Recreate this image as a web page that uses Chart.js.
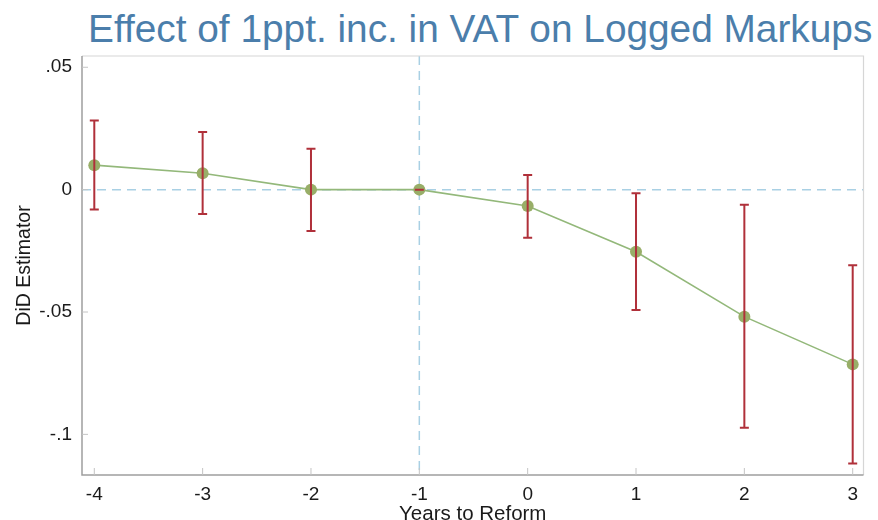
<!DOCTYPE html>
<html>
<head>
<meta charset="utf-8">
<script src="https://cdn.jsdelivr.net/npm/chart.js@4.4.0/dist/chart.umd.min.js"></script>
<style>
    body { margin: 0; background: #fff; }
    #wrap { position: relative; width: 878px; height: 520px; }
    #titulo {
        position: absolute; left: 88px; top: 10px;
        font-family: "Liberation Sans", Arial, sans-serif;
        font-size: 38.8px; line-height: 38.8px;
        color: #4b7eab; white-space: nowrap;
    }
    canvas { position: absolute; left: 0; top: 0; }
</style>
</head>
<body>
<div id="wrap">
    <div id="titulo">Effect of 1ppt. inc. in VAT on Logged Markups</div>
    <canvas id="grafico" width="878" height="520"></canvas>
</div>
<script>
// datos
let years = [-4, -3, -2, -1, 0, 1, 2, 3]
let estimador = [0.0100, 0.0067, 0.0000, 0.0000, -0.0067, -0.0254, -0.0519, -0.0714]
let ci_alto = [0.0282, 0.0235, 0.0167, 0.0000, 0.0060, -0.0015, -0.0062, -0.0309]
let ci_bajo = [-0.0081, -0.0100, -0.0169, 0.0000, -0.0197, -0.0492, -0.0973, -0.1119]
let y_ticks = [-0.1, -0.05, 0, 0.05]
let y_labels = ['-.1', '-.05', '0', '.05']

let color_linea = '#93b87a'
let color_punto = '#98ae68'
let color_error = '#b0303a'
let color_ref = '#a9d0e4'
let color_eje = '#9e9e9e'

let fuente = '"Liberation Sans", Arial, sans-serif'

// lineas de referencia (x = -1, y = 0)
const referencias = {
    id: 'referencias',
    beforeDatasetsDraw(chart) {
        const {ctx, chartArea, scales: {x, y}} = chart
        ctx.save()
        ctx.strokeStyle = color_ref
        ctx.lineWidth = 1.5
        ctx.setLineDash([9, 6])
        let y0 = y.getPixelForValue(0)
        ctx.beginPath()
        ctx.moveTo(chartArea.left, y0)
        ctx.lineTo(chartArea.right, y0)
        ctx.stroke()
        let x1 = x.getPixelForValue(-1)
        ctx.beginPath()
        ctx.moveTo(x1, chartArea.top)
        ctx.lineTo(x1, chartArea.bottom)
        ctx.stroke()
        ctx.restore()
    }
}

// barras de error
const barras_error = {
    id: 'barras_error',
    afterDatasetsDraw(chart) {
        const {ctx, scales: {x, y}} = chart
        ctx.save()
        ctx.strokeStyle = color_error
        ctx.lineWidth = 2
        years.forEach((anio, i) => {
            let px = x.getPixelForValue(anio)
            let top = y.getPixelForValue(ci_alto[i])
            let bot = y.getPixelForValue(ci_bajo[i])
            ctx.beginPath()
            ctx.moveTo(px, top)
            ctx.lineTo(px, bot)
            ctx.moveTo(px - 4.5, top)
            ctx.lineTo(px + 4.5, top)
            ctx.moveTo(px - 4.5, bot)
            ctx.lineTo(px + 4.5, bot)
            ctx.stroke()
        })
        ctx.restore()
    }
}

// marco y ticks hacia adentro
const marco = {
    id: 'marco',
    beforeDatasetsDraw(chart) {
        const {ctx, chartArea: a, scales: {x, y}} = chart
        ctx.save()
        ctx.strokeStyle = '#d6d6d6'
        ctx.lineWidth = 1.2
        ctx.beginPath()
        ctx.moveTo(a.left, a.top)
        ctx.lineTo(a.right, a.top)
        ctx.lineTo(a.right, a.bottom)
        ctx.stroke()
        ctx.strokeStyle = color_eje
        ctx.lineWidth = 1.5
        ctx.beginPath()
        ctx.moveTo(a.left, a.top)
        ctx.lineTo(a.left, a.bottom)
        ctx.lineTo(a.right, a.bottom)
        ctx.stroke()
        ctx.strokeStyle = '#c4c4c4'
        ctx.lineWidth = 1
        ctx.beginPath()
        y_ticks.forEach(v => {
            let py = y.getPixelForValue(v)
            ctx.moveTo(a.left, py)
            ctx.lineTo(a.left + 6, py)
        })
        years.forEach(v => {
            let px = x.getPixelForValue(v)
            ctx.moveTo(px, a.bottom)
            ctx.lineTo(px, a.bottom - 7)
        })
        ctx.stroke()
        ctx.restore()
    }
}

var configuracion = {
    type: 'line',
    data: {
        datasets: [{
            label: 'DiD',
            data: years.map((anio, i) => ({x: anio, y: estimador[i]})),
            borderColor: color_linea,
            borderWidth: 1.6,
            backgroundColor: color_punto,
            pointBackgroundColor: color_punto,
            pointBorderColor: color_punto,
            pointRadius: 6,
            pointBorderWidth: 0,
            tension: 0
        }]
    },
    options: {
        responsive: false,
        animation: false,
        layout: { padding: { top: 56, right: 14.5, bottom: 0, left: 0 } },
        plugins: {
            legend: { display: false },
            tooltip: { enabled: false }
        },
        scales: {
            x: {
                type: 'linear',
                min: -4.1135,
                max: 3.0997,
                grid: { display: false, drawTicks: false },
                border: { display: false },
                afterBuildTicks: (scale) => { scale.ticks = years.map(v => ({value: v})) },
                afterFit: (scale) => { scale.height = 45 },
                ticks: {
                    padding: 8,
                    color: '#1a1a1a',
                    font: { family: fuente, size: 19 },
                    callback: (v) => String(v)
                },
                title: {
                    display: true,
                    text: 'Years to Reform',
                    color: '#1a1a1a',
                    font: { family: fuente, size: 20.5, lineHeight: 0.6 },
                    padding: 0
                }
            },
            y: {
                min: -0.1166,
                max: 0.0546,
                grid: { display: false, drawTicks: false },
                border: { display: false },
                afterBuildTicks: (scale) => { scale.ticks = y_ticks.map(v => ({value: v})) },
                afterFit: (scale) => { scale.width = 82 },
                ticks: {
                    padding: 10,
                    color: '#1a1a1a',
                    font: { family: fuente, size: 19 },
                    callback: (v) => y_labels[y_ticks.findIndex(t => Math.abs(t - v) < 1e-9)]
                },
                title: {
                    display: true,
                    text: 'DiD Estimator',
                    color: '#1a1a1a',
                    font: { family: fuente, size: 19.5, lineHeight: 1.2 },
                    padding: { top: 12.5, bottom: 0 }
                }
            }
        }
    },
    plugins: [referencias, marco, barras_error]
}

var ctx = document.getElementById('grafico').getContext('2d')
var grafico = new Chart(ctx, configuracion)
</script>
</body>
</html>
